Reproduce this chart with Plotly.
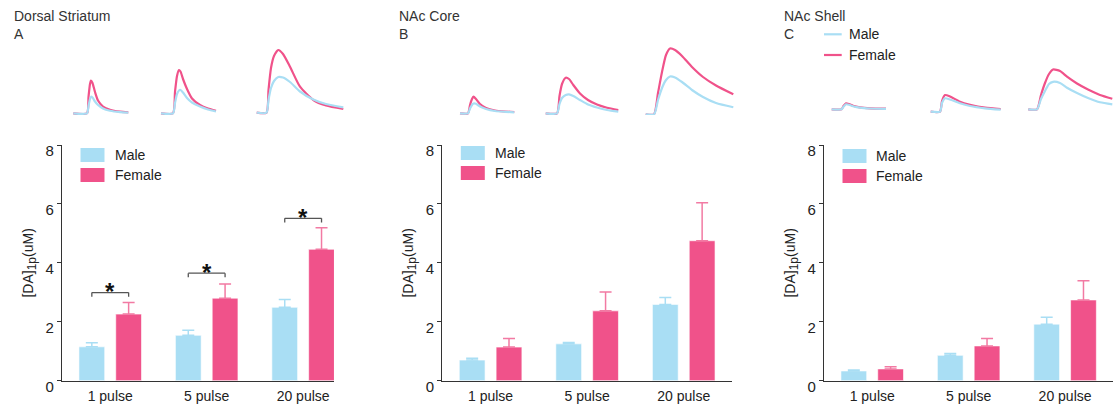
import plotly.graph_objects as go

# ---------------- data ----------------
categories = ["1 pulse", "5 pulse", "20 pulse"]
panel_titles = ["Dorsal Striatum", "NAc Core", "NAc Shell"]
panel_letters = ["A", "B", "C"]
sex_labels = ["Male", "Female"]
y_ticks = [0, 2, 4, 6, 8]

# [DA]1p (uM), mean and SEM
ds_male_mean = [1.15, 1.54, 2.49]
ds_male_sem = [0.14, 0.17, 0.27]
ds_female_mean = [2.26, 2.80, 4.46]
ds_female_sem = [0.39, 0.48, 0.73]

core_male_mean = [0.70, 1.25, 2.59]
core_male_sem = [0.06, 0.05, 0.23]
core_female_mean = [1.14, 2.37, 4.75]
core_female_sem = [0.29, 0.64, 1.29]

shell_male_mean = [0.33, 0.86, 1.92]
shell_male_sem = [0.03, 0.06, 0.23]
shell_female_mean = [0.40, 1.18, 2.74]
shell_female_sem = [0.07, 0.25, 0.65]

# significance bracket heights (Dorsal Striatum only)
ds_sig_level = [2.99, 3.65, 5.51]

# example traces (time s, signal a.u.) per stimulus
ds_trace_t = [
    [1.13, 2.50, 2.65, 2.80, 2.90, 3.05, 3.30, 3.60, 4.10, 4.80, 5.80, 6.63],
    [9.90, 11.10, 11.30, 11.50, 11.70, 11.85, 12.10, 12.50, 13.00, 13.80, 14.60, 15.40],
    [19.47, 20.45, 20.65, 20.90, 21.20, 21.63, 22.10, 22.80, 23.80, 25.13, 26.40, 28.13],
]
ds_trace_female = [
    [0.07, 0.07, 1.70, 3.00, 3.33, 3.10, 2.20, 1.35, 0.75, 0.42, 0.23, 0.17],
    [0.07, 0.07, 2.20, 3.80, 4.40, 4.25, 3.50, 2.50, 1.55, 0.90, 0.55, 0.33],
    [0.13, 0.13, 2.40, 4.60, 5.80, 6.40, 6.00, 4.73, 2.73, 1.40, 0.85, 0.50],
]
ds_trace_male = [
    [0.07, 0.07, 0.80, 1.50, 1.73, 1.65, 1.25, 0.90, 0.55, 0.32, 0.18, 0.13],
    [0.07, 0.07, 1.10, 2.00, 2.35, 2.40, 2.15, 1.60, 1.15, 0.75, 0.45, 0.25],
    [0.13, 0.13, 1.40, 2.60, 3.30, 3.70, 3.65, 3.20, 2.25, 1.45, 1.00, 0.67],
]

core_trace_t = [
    [1.80, 2.60, 2.80, 3.00, 3.15, 3.40, 3.80, 4.40, 5.30, 6.30, 7.23],
    [10.37, 11.50, 11.75, 12.00, 12.37, 12.70, 13.13, 13.80, 14.60, 15.50, 16.50, 17.63],
    [20.37, 21.20, 21.60, 22.00, 22.40, 22.80, 23.30, 24.00, 25.00, 26.10, 27.40, 29.13],
]
core_trace_female = [
    [0.07, 0.07, 0.90, 1.50, 1.73, 1.50, 1.00, 0.60, 0.35, 0.25, 0.20],
    [0.07, 0.07, 1.80, 3.00, 3.63, 3.50, 2.90, 2.05, 1.40, 0.95, 0.63, 0.40],
    [-0.03, -0.03, 2.10, 4.20, 5.90, 6.55, 6.40, 5.80, 4.70, 3.70, 2.85, 1.97],
]
core_trace_male = [
    [0.07, 0.07, 0.55, 0.90, 1.05, 1.02, 0.75, 0.50, 0.30, 0.22, 0.17],
    [0.07, 0.07, 1.00, 1.60, 1.90, 1.97, 1.80, 1.40, 0.95, 0.65, 0.40, 0.23],
    [-0.03, -0.03, 1.40, 2.60, 3.40, 3.75, 3.65, 3.20, 2.40, 1.70, 1.10, 0.67],
]

shell_trace_t = [
    [0.77, 1.75, 1.95, 2.20, 2.50, 2.90, 3.60, 4.60, 6.20],
    [10.67, 11.60, 11.80, 12.10, 12.60, 13.60, 14.60, 16.10, 17.67],
    [20.43, 21.30, 21.70, 22.10, 22.50, 22.90, 23.60, 24.30, 25.30, 26.40, 27.60, 28.83],
]
shell_trace_female = [
    [0.47, 0.47, 0.80, 1.07, 1.00, 0.83, 0.67, 0.57, 0.53],
    [0.23, 0.23, 1.30, 1.90, 1.75, 1.23, 0.93, 0.63, 0.50],
    [0.47, 0.47, 1.90, 3.10, 4.00, 4.45, 4.30, 3.73, 3.05, 2.45, 1.90, 1.53],
]
shell_trace_male = [
    [0.47, 0.47, 0.72, 0.97, 0.92, 0.78, 0.63, 0.55, 0.52],
    [0.23, 0.23, 1.10, 1.57, 1.45, 1.07, 0.80, 0.57, 0.43],
    [0.47, 0.47, 1.50, 2.30, 3.00, 3.22, 3.10, 2.63, 2.10, 1.60, 1.17, 0.97],
]

# ---------------- style / layout ----------------
W, H = 1120, 405
FONT = "Liberation Sans, Arial, Helvetica, sans-serif"
MALE = "#a9def4"
FEMALE = "#f0528a"
MALE_ERR = "#a9def4"
FEMALE_ERR = "#f27aa3"
AXIS = "#333333"
TXT = "#222222"


def px_x(p):
    return p / W


def px_y(p):
    return 1 - p / H


panels = [
    dict(male=(ds_male_mean, ds_male_sem), female=(ds_female_mean, ds_female_sem),
         tt=ds_trace_t, tm=ds_trace_male, tf=ds_trace_female,
         bar_px=(62, 334), xr=[-0.5, 2.32], trace_px=62, title_px=11.7, leg_top=148),
    dict(male=(core_male_mean, core_male_sem), female=(core_female_mean, core_female_sem),
         tt=core_trace_t, tm=core_trace_male, tf=core_trace_female,
         bar_px=(442.3, 732), xr=[-0.5, 2.5], trace_px=442, title_px=396.7, leg_top=146),
    dict(male=(shell_male_mean, shell_male_sem), female=(shell_female_mean, shell_female_sem),
         tt=shell_trace_t, tm=shell_trace_male, tf=shell_trace_female,
         bar_px=(824, 1113.3), xr=[-0.5, 2.5], trace_px=824, title_px=781.7, leg_top=149),
]

fig = go.Figure()
layout = dict(
    template="none",
    width=W, height=H, margin=dict(l=0, r=0, t=0, b=0, pad=0, autoexpand=False),
    autosize=False,
    paper_bgcolor="white", plot_bgcolor="white",
    barmode="group", bargap=0.237, bargroupgap=0.30,
    showlegend=False, font=dict(family=FONT, size=14, color=TXT),
)
shapes = []
annotations = []

BAR_TOP_PX, BAR_BOT_PX = 145, 380.7
TR_TOP_PX, TR_BOT_PX = 40, 115

for i, p in enumerate(panels):
    n = i + 1
    ax_x = "x" if n == 1 else f"x{n}"
    ax_y = "y" if n == 1 else f"y{n}"
    key_x = "xaxis" if n == 1 else f"xaxis{n}"
    key_y = "yaxis" if n == 1 else f"yaxis{n}"

    for sex, (mean, sem), col, ecol in [("Male", p["male"], MALE, MALE_ERR),
                                         ("Female", p["female"], FEMALE, FEMALE_ERR)]:
        fig.add_trace(go.Bar(
            x=categories, y=mean, name=sex, xaxis=ax_x, yaxis=ax_y,
            marker=dict(color=col, line=dict(color="rgba(255,255,255,0.6)", width=1)),
            error_y=dict(type="data", array=sem, arrayminus=[0] * len(sem), symmetric=False,
                         color=ecol, thickness=1.5, width=6),
        ))

    layout[key_x] = dict(
        domain=[px_x(p["bar_px"][0]), px_x(p["bar_px"][1])], anchor=ax_y, automargin=False,
        type="category", categoryorder="array", categoryarray=categories,
        range=p["xr"], showline=True, linecolor=AXIS, linewidth=1.3,
        ticks="", showgrid=False, zeroline=False, ticklabelstandoff=2,
        tickfont=dict(size=14, color=TXT, family=FONT),
    )
    layout[key_y] = dict(
        domain=[px_y(BAR_BOT_PX), px_y(BAR_TOP_PX)], anchor=ax_x, automargin=False,
        range=[0, 8], tickvals=y_ticks, showline=True, linecolor=AXIS, linewidth=1.3,
        ticks="outside", ticklen=4, tickwidth=1.3, tickcolor=AXIS,
        showgrid=False, zeroline=False, ticklabelshift=6,
        tickfont=dict(size=15, color=TXT, family=FONT),
        title=dict(text="[DA]<sub><span style='font-size:12px'>1p</span></sub>(uM)",
                   font=dict(size=14, color=TXT, family=FONT), standoff=8),
    )

    # trace inset axes
    tn = n + 3
    tx, ty = f"x{tn}", f"y{tn}"
    layout[f"xaxis{tn}"] = dict(domain=[px_x(p["trace_px"]), px_x(p["trace_px"] + 295)],
                                range=[0, 29.5], visible=False, anchor=ty, automargin=False)
    layout[f"yaxis{tn}"] = dict(domain=[px_y(TR_BOT_PX), px_y(TR_TOP_PX)],
                                range=[-0.1, 7.4], visible=False, anchor=tx, automargin=False)
    for k in range(3):
        fig.add_trace(go.Scatter(x=p["tt"][k], y=p["tf"][k], mode="lines", xaxis=tx, yaxis=ty,
                                 line=dict(color=FEMALE, width=2.2, shape="spline", smoothing=0.6),
                                 hoverinfo="skip"))
        fig.add_trace(go.Scatter(x=p["tt"][k], y=p["tm"][k], mode="lines", xaxis=tx, yaxis=ty,
                                 line=dict(color=MALE, width=2.2, shape="spline", smoothing=0.6),
                                 hoverinfo="skip"))

    # panel titles
    annotations.append(dict(text=panel_titles[i], x=px_x(p["title_px"]), y=px_y(15.7), xref="paper",
                            yref="paper", xanchor="left", yanchor="middle", showarrow=False,
                            font=dict(size=14, color="#333333", family=FONT)))
    annotations.append(dict(text=panel_letters[i], x=px_x(p["title_px"]), y=px_y(34), xref="paper",
                            yref="paper", xanchor="left", yanchor="middle", showarrow=False,
                            font=dict(size=14, color="#333333", family=FONT)))

    # bar legend (square swatches)
    lx0 = p["bar_px"][0] + 18.5
    for j, (lab, col) in enumerate(zip(sex_labels, [MALE, FEMALE])):
        top = p["leg_top"] + j * 20
        shapes.append(dict(type="rect", xref="paper", yref="paper", x0=px_x(lx0), x1=px_x(lx0 + 24),
                           y0=px_y(top + 14), y1=px_y(top), fillcolor=col, line=dict(width=0)))
        annotations.append(dict(text=lab, x=px_x(lx0 + 32), y=px_y(top + 7), xref="paper", yref="paper",
                                xanchor="left", yanchor="middle", showarrow=False,
                                font=dict(size=14, color=TXT, family=FONT)))

# significance brackets, Dorsal Striatum
off = (1 - layout["bargap"]) / 4
for k, lev in enumerate(ds_sig_level):
    line = dict(color="#555555", width=1.3)
    shapes.append(dict(type="line", xref="x", yref="y", x0=k - off, x1=k + off, y0=lev, y1=lev, line=line))
    shapes.append(dict(type="line", xref="x", yref="y", x0=k - off, x1=k - off, y0=lev, y1=lev - 0.14, line=line))
    shapes.append(dict(type="line", xref="x", yref="y", x0=k + off, x1=k + off, y0=lev, y1=lev - 0.14, line=line))
    annotations.append(dict(text="<b>*</b>", x=k, y=lev, xref="x", yref="y", xanchor="center",
                            yanchor="middle", yshift=1, showarrow=False,
                            font=dict(size=24, color="#111111", family=FONT)))

# line legend for traces (NAc Shell panel)
for j, (lab, col) in enumerate(zip(sex_labels, [MALE, FEMALE])):
    yy = 34.3 + j * 20.7
    shapes.append(dict(type="line", xref="paper", yref="paper", x0=px_x(824), x1=px_x(841.7),
                       y0=px_y(yy), y1=px_y(yy), line=dict(color=col, width=2.2)))
    annotations.append(dict(text=lab, x=px_x(847.3), y=px_y(yy), xref="paper", yref="paper",
                            xanchor="left", yanchor="middle", showarrow=False,
                            font=dict(size=14, color=TXT, family=FONT)))

layout["shapes"] = shapes
layout["annotations"] = annotations
fig.update_layout(**layout)
fig.write_html("out.html")
